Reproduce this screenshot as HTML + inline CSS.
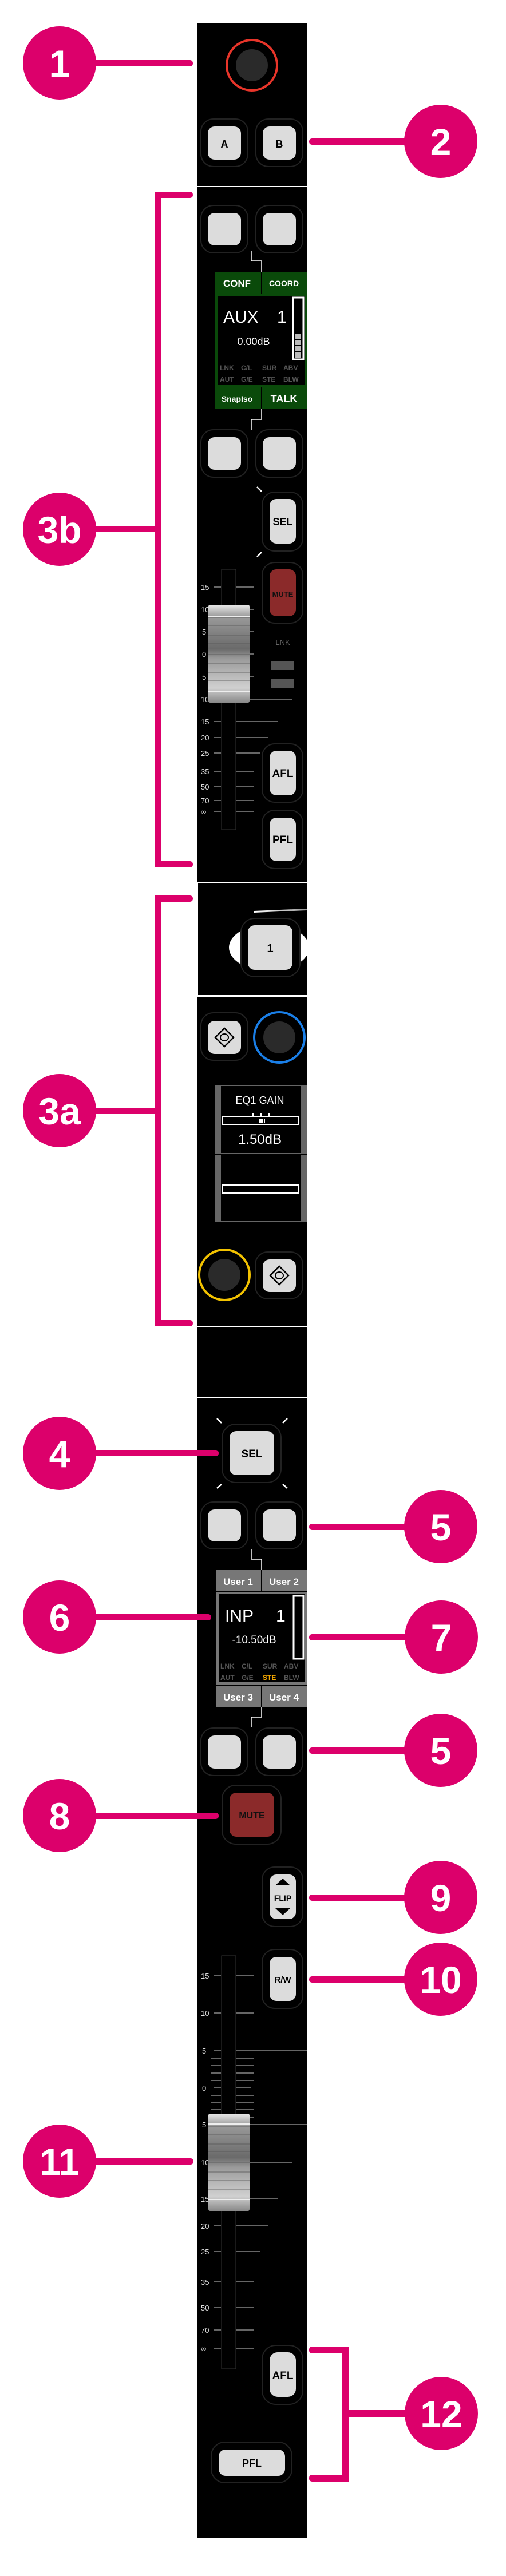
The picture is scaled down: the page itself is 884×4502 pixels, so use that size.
<!DOCTYPE html>
<html><head><meta charset="utf-8"><style>
html,body{margin:0;padding:0;background:#fff;}
svg{display:block;}
text{font-family:"Liberation Sans",sans-serif;}
</style></head><body>
<svg width="884" height="4502" viewBox="0 0 884 4502" xmlns="http://www.w3.org/2000/svg">
<defs>
<linearGradient id="cap" x1="0" y1="0" x2="0" y2="1">
<stop offset="0" stop-color="#e8e8e8"/><stop offset="0.12" stop-color="#9a9a9a"/>
<stop offset="0.45" stop-color="#6a6a6a"/><stop offset="0.55" stop-color="#9a9a9a"/>
<stop offset="0.85" stop-color="#d0d0d0"/><stop offset="1" stop-color="#888"/>
</linearGradient>
<linearGradient id="sw" x1="0" y1="0" x2="1" y2="0">
<stop offset="0" stop-color="#fff"/><stop offset="1" stop-color="#fff" stop-opacity="0.6"/>
</linearGradient>
</defs>
<rect width="884" height="4502" fill="#fff"/>
<!-- strip -->
<rect x="344" y="40" width="192" height="4395" fill="#000"/>
<!-- section separators -->
<rect x="344" y="325" width="192" height="2" fill="#fff"/>
<rect x="344" y="1541" width="192" height="3" fill="#fff"/>
<rect x="344" y="1544" width="2" height="196" fill="#fff"/>
<rect x="344" y="1739" width="192" height="3" fill="#fff"/>
<rect x="344" y="2318" width="192" height="2" fill="#fff"/>
<rect x="344" y="2441" width="192" height="2" fill="#fff"/>

<!-- knob 1 -->
<circle cx="440" cy="114" r="44" fill="none" stroke="#e8352a" stroke-width="4"/>
<circle cx="440" cy="114" r="28" fill="#2a2a2a"/>

<!-- A/B -->
<g>
<rect x="351" y="208" width="82" height="83" rx="22" fill="#000" stroke="#222" stroke-width="2"/>
<rect x="363" y="221" width="58" height="58" rx="12" fill="#dcdcdc"/>
<text x="392" y="258" font-size="18" font-weight="bold" text-anchor="middle">A</text>
<rect x="447" y="208" width="82" height="83" rx="22" fill="#000" stroke="#222" stroke-width="2"/>
<rect x="459" y="221" width="58" height="58" rx="12" fill="#dcdcdc"/>
<text x="488" y="258" font-size="18" font-weight="bold" text-anchor="middle">B</text>
</g>

<!-- row 2 buttons -->
<rect x="351" y="359" width="82" height="83" rx="22" fill="#000" stroke="#222" stroke-width="2"/>
<rect x="363" y="372" width="58" height="57" rx="12" fill="#dcdcdc"/>
<rect x="447" y="359" width="82" height="83" rx="22" fill="#000" stroke="#222" stroke-width="2"/>
<rect x="459" y="372" width="58" height="57" rx="12" fill="#dcdcdc"/>
<polyline points="439,439 439,456 457,456 457,475" fill="none" stroke="#fff" stroke-width="1.5"/>

<!-- AUX display -->
<rect x="376" y="475" width="160" height="38" fill="#0a4a0a"/>
<rect x="456" y="475" width="2" height="38" fill="#000"/>
<text x="414" y="501" font-size="17" font-weight="bold" fill="#fff" text-anchor="middle">CONF</text>
<text x="496" y="500" font-size="14" font-weight="bold" fill="#fff" text-anchor="middle">COORD</text>
<rect x="376" y="514" width="160" height="162" fill="#0a4a0a"/>
<rect x="380" y="517" width="152" height="156" fill="#000"/>
<text x="390" y="564" font-size="30" fill="#fff">AUX</text>
<text x="484" y="564" font-size="30" fill="#fff">1</text>
<text x="443" y="603" font-size="18" fill="#fff" text-anchor="middle">0.00dB</text>
<rect x="512" y="520" width="18" height="108" fill="none" stroke="#fff" stroke-width="3"/>
<rect x="516" y="583" width="10" height="9" fill="#bbb"/>
<rect x="516" y="594" width="10" height="9" fill="#bbb"/>
<rect x="516" y="605" width="10" height="9" fill="#bbb"/>
<rect x="516" y="616" width="10" height="9" fill="#bbb"/>
<g font-family="Liberation Mono,monospace" font-size="12" fill="#555" font-weight="bold">
<text x="384" y="647">LNK</text><text x="421" y="647">C/L</text><text x="458" y="647">SUR</text><text x="495" y="647">ABV</text>
<text x="384" y="667">AUT</text><text x="421" y="667">G/E</text><text x="458" y="667">STE</text><text x="495" y="667">BLW</text>
</g>
<rect x="376" y="677" width="160" height="37" fill="#0a4a0a"/>
<rect x="456" y="677" width="2" height="37" fill="#000"/>
<text x="414" y="702" font-size="14" font-weight="bold" fill="#fff" text-anchor="middle">SnapIso</text>
<text x="496" y="703" font-size="18" font-weight="bold" fill="#fff" text-anchor="middle">TALK</text>
<polyline points="457,714 457,733 439,733 439,751" fill="none" stroke="#fff" stroke-width="1.5"/>

<!-- row 3 -->
<rect x="351" y="751" width="82" height="83" rx="22" fill="#000" stroke="#222" stroke-width="2"/>
<rect x="363" y="764" width="58" height="57" rx="12" fill="#dcdcdc"/>
<rect x="447" y="751" width="82" height="83" rx="22" fill="#000" stroke="#222" stroke-width="2"/>
<rect x="459" y="764" width="58" height="57" rx="12" fill="#dcdcdc"/>

<!-- SEL (top) -->
<line x1="449" y1="851" x2="457" y2="859" stroke="#fff" stroke-width="2.5"/>
<line x1="449" y1="973" x2="457" y2="965" stroke="#fff" stroke-width="2.5"/>
<rect x="458" y="860" width="71" height="103" rx="22" fill="#000" stroke="#222" stroke-width="2"/>
<rect x="471" y="872" width="46" height="78" rx="12" fill="#dcdcdc"/>
<text x="494" y="918" font-size="18" font-weight="bold" text-anchor="middle">SEL</text>
<!-- MUTE -->
<rect x="458" y="983" width="71" height="106" rx="22" fill="#000" stroke="#222" stroke-width="2"/>
<rect x="471" y="995" width="46" height="82" rx="12" fill="#8b2a2a"/>
<text x="494" y="1043" font-size="13" font-weight="bold" fill="#111" text-anchor="middle">MUTE</text>
<text x="494" y="1127" font-size="13" fill="#666" text-anchor="middle">LNK</text>
<rect x="474" y="1155" width="40" height="16" fill="#555"/>
<rect x="474" y="1187" width="40" height="16" fill="#555"/>

<!-- fader 1 -->
<rect x="387" y="995" width="25" height="455" fill="#000" stroke="#333" stroke-width="1"/>
<g stroke="#888" stroke-width="1.5">
<line x1="374" y1="1026" x2="386" y2="1026"/><line x1="413" y1="1026" x2="444" y2="1026"/>
<line x1="413" y1="1065" x2="444" y2="1065"/>
<line x1="413" y1="1104" x2="444" y2="1104"/>
<line x1="413" y1="1143" x2="444" y2="1143"/>
<line x1="413" y1="1183" x2="444" y2="1183"/>
<line x1="413" y1="1222" x2="511" y2="1222"/>
<line x1="374" y1="1261" x2="386" y2="1261"/><line x1="413" y1="1261" x2="486" y2="1261"/>
<line x1="374" y1="1289" x2="386" y2="1289"/><line x1="413" y1="1289" x2="468" y2="1289"/>
<line x1="374" y1="1316" x2="386" y2="1316"/><line x1="413" y1="1316" x2="455" y2="1316"/>
<line x1="374" y1="1348" x2="386" y2="1348"/><line x1="413" y1="1348" x2="444" y2="1348"/>
<line x1="374" y1="1375" x2="386" y2="1375"/><line x1="413" y1="1375" x2="444" y2="1375"/>
<line x1="374" y1="1399" x2="386" y2="1399"/><line x1="413" y1="1399" x2="444" y2="1399"/>
<line x1="374" y1="1418" x2="386" y2="1418"/><line x1="413" y1="1418" x2="444" y2="1418"/>
</g>
<g font-size="13" fill="#ddd">
<text x="351" y="1031">15</text><text x="351" y="1070">10</text><text x="353" y="1109">5</text>
<text x="353" y="1148">0</text><text x="353" y="1188">5</text><text x="351" y="1227">10</text>
<text x="351" y="1266">15</text><text x="351" y="1294">20</text><text x="351" y="1321">25</text>
<text x="351" y="1353">35</text><text x="351" y="1380">50</text><text x="351" y="1404">70</text>
<text x="351" y="1423">∞</text>
</g>
<rect x="364" y="1057" width="72" height="171" rx="3" fill="url(#cap)"/>
<g stroke="#555" stroke-width="1" opacity="0.8">
<line x1="364" y1="1079" x2="436" y2="1079"/><line x1="364" y1="1093" x2="436" y2="1093"/>
<line x1="364" y1="1110" x2="436" y2="1110"/><line x1="364" y1="1124" x2="436" y2="1124"/>
<line x1="364" y1="1144" x2="436" y2="1144"/><line x1="364" y1="1160" x2="436" y2="1160"/>
<line x1="364" y1="1175" x2="436" y2="1175"/><line x1="364" y1="1190" x2="436" y2="1190"/>
</g>
<rect x="364" y="1076" width="72" height="2" fill="#eee"/>
<rect x="364" y="1207" width="72" height="2" fill="#eee"/>

<!-- AFL/PFL top -->
<rect x="458" y="1300" width="71" height="102" rx="22" fill="#000" stroke="#222" stroke-width="2"/>
<rect x="471" y="1312" width="46" height="78" rx="12" fill="#dcdcdc"/>
<text x="494" y="1358" font-size="19" font-weight="bold" text-anchor="middle">AFL</text>
<rect x="458" y="1416" width="71" height="102" rx="22" fill="#000" stroke="#222" stroke-width="2"/>
<rect x="471" y="1429" width="46" height="76" rx="12" fill="#dcdcdc"/>
<text x="494" y="1474" font-size="19" font-weight="bold" text-anchor="middle">PFL</text>

<!-- section with "1" -->
<polygon points="444,1592 536,1588 536,1591 444,1595" fill="url(#sw)"/>
<clipPath id="c1"><rect x="346" y="1544" width="190" height="195"/></clipPath>
<ellipse cx="470" cy="1656" rx="70" ry="41" fill="#fff" clip-path="url(#c1)"/>
<rect x="421" y="1605" width="103" height="102" rx="24" fill="#000" stroke="#222" stroke-width="2"/>
<rect x="433" y="1617" width="78" height="78" rx="12" fill="#dcdcdc"/>
<text x="472" y="1664" font-size="20" font-weight="bold" text-anchor="middle">1</text>

<!-- EQ section -->
<rect x="351" y="1770" width="82" height="83" rx="22" fill="#000" stroke="#222" stroke-width="2"/>
<rect x="363" y="1784" width="58" height="58" rx="12" fill="#dcdcdc"/>
<polygon points="392,1797 408,1813 392,1829 376,1813" fill="none" stroke="#000" stroke-width="2.5"/>
<ellipse cx="392" cy="1813" rx="7" ry="6" fill="none" stroke="#000" stroke-width="2"/>
<circle cx="488" cy="1813" r="44" fill="none" stroke="#1a7fe8" stroke-width="4"/>
<circle cx="488" cy="1813" r="28" fill="#2a2a2a"/>

<rect x="376" y="1897" width="160" height="119" fill="#666"/>
<rect x="386" y="1898" width="140" height="117" fill="#000"/>
<text x="454" y="1929" font-size="18" fill="#fff" text-anchor="middle">EQ1 GAIN</text>
<rect x="389" y="1952" width="133" height="13" fill="none" stroke="#fff" stroke-width="2"/>
<rect x="441" y="1946" width="2" height="5" fill="#fff"/><rect x="455" y="1946" width="2" height="5" fill="#fff"/><rect x="469" y="1946" width="2" height="5" fill="#fff"/>
<rect x="452" y="1955" width="2" height="8" fill="#fff"/><rect x="455" y="1955" width="2" height="8" fill="#fff"/><rect x="458" y="1955" width="2" height="8" fill="#fff"/><rect x="461" y="1955" width="2" height="8" fill="#fff"/>
<text x="454" y="1999" font-size="24" fill="#fff" text-anchor="middle">1.50dB</text>
<rect x="376" y="2018" width="160" height="117" fill="#666"/>
<rect x="386" y="2019" width="140" height="115" fill="#000"/>
<rect x="389" y="2071" width="133" height="14" fill="none" stroke="#fff" stroke-width="2"/>

<circle cx="392" cy="2228" r="44" fill="none" stroke="#f2c200" stroke-width="4"/>
<circle cx="392" cy="2228" r="28" fill="#2a2a2a"/>
<rect x="446" y="2188" width="83" height="82" rx="22" fill="#000" stroke="#222" stroke-width="2"/>
<rect x="459" y="2201" width="58" height="57" rx="12" fill="#dcdcdc"/>
<polygon points="488,2213 504,2229 488,2245 472,2229" fill="none" stroke="#000" stroke-width="2.5"/>
<ellipse cx="488" cy="2229" rx="7" ry="6" fill="none" stroke="#000" stroke-width="2"/>

<!-- SEL 2 -->
<line x1="379" y1="2479" x2="387" y2="2487" stroke="#fff" stroke-width="2.5"/>
<line x1="502" y1="2479" x2="494" y2="2487" stroke="#fff" stroke-width="2.5"/>
<line x1="379" y1="2601" x2="387" y2="2594" stroke="#fff" stroke-width="2.5"/>
<line x1="502" y1="2601" x2="494" y2="2594" stroke="#fff" stroke-width="2.5"/>
<rect x="388" y="2489" width="103" height="102" rx="24" fill="#000" stroke="#222" stroke-width="2"/>
<rect x="401" y="2501" width="78" height="77" rx="12" fill="#dcdcdc"/>
<text x="440" y="2547" font-size="19" font-weight="bold" text-anchor="middle">SEL</text>

<rect x="351" y="2625" width="82" height="82" rx="22" fill="#000" stroke="#222" stroke-width="2"/>
<rect x="363" y="2638" width="58" height="56" rx="12" fill="#dcdcdc"/>
<rect x="447" y="2625" width="82" height="82" rx="22" fill="#000" stroke="#222" stroke-width="2"/>
<rect x="459" y="2638" width="58" height="56" rx="12" fill="#dcdcdc"/>
<polyline points="439,2708 439,2725 457,2725 457,2744" fill="none" stroke="#fff" stroke-width="1.5"/>

<!-- INP display -->
<rect x="377" y="2744" width="159" height="37" fill="#777"/>
<rect x="456" y="2744" width="2" height="37" fill="#000"/>
<text x="416" y="2770" font-size="17" font-weight="bold" fill="#fff" text-anchor="middle">User 1</text>
<text x="496" y="2770" font-size="17" font-weight="bold" fill="#fff" text-anchor="middle">User 2</text>
<rect x="377" y="2782" width="159" height="163" fill="#777"/>
<rect x="382" y="2786" width="151" height="154" fill="#000"/>
<text x="393" y="2834" font-size="30" fill="#fff">INP</text>
<text x="482" y="2834" font-size="30" fill="#fff">1</text>
<text x="444" y="2872" font-size="19" fill="#fff" text-anchor="middle">-10.50dB</text>
<rect x="513" y="2789" width="17" height="110" fill="none" stroke="#fff" stroke-width="3"/>
<g font-family="Liberation Mono,monospace" font-size="12" fill="#555" font-weight="bold">
<text x="385" y="2916">LNK</text><text x="422" y="2916">C/L</text><text x="459" y="2916">SUR</text><text x="496" y="2916">ABV</text>
<text x="385" y="2936">AUT</text><text x="422" y="2936">G/E</text><text x="459" y="2936" fill="#f5a800">STE</text><text x="496" y="2936">BLW</text>
</g>
<rect x="377" y="2947" width="159" height="36" fill="#777"/>
<rect x="456" y="2947" width="2" height="36" fill="#000"/>
<text x="416" y="2972" font-size="17" font-weight="bold" fill="#fff" text-anchor="middle">User 3</text>
<text x="496" y="2972" font-size="17" font-weight="bold" fill="#fff" text-anchor="middle">User 4</text>
<polyline points="457,2983 457,3001 439,3001 439,3019" fill="none" stroke="#fff" stroke-width="1.5"/>

<rect x="351" y="3020" width="82" height="83" rx="22" fill="#000" stroke="#222" stroke-width="2"/>
<rect x="363" y="3033" width="58" height="58" rx="12" fill="#dcdcdc"/>
<rect x="447" y="3020" width="82" height="83" rx="22" fill="#000" stroke="#222" stroke-width="2"/>
<rect x="459" y="3033" width="58" height="58" rx="12" fill="#dcdcdc"/>

<!-- MUTE 2 -->
<rect x="388" y="3120" width="103" height="103" rx="24" fill="#000" stroke="#222" stroke-width="2"/>
<rect x="401" y="3133" width="78" height="77" rx="12" fill="#8b2a2a"/>
<text x="440" y="3178" font-size="16" font-weight="bold" fill="#111" text-anchor="middle">MUTE</text>

<!-- FLIP -->
<rect x="458" y="3263" width="71" height="104" rx="22" fill="#000" stroke="#222" stroke-width="2"/>
<rect x="471" y="3276" width="46" height="78" rx="12" fill="#dcdcdc"/>
<polygon points="494,3283 507,3295 481,3295" fill="#000"/>
<polygon points="494,3347 507,3335 481,3335" fill="#000"/>
<text x="494" y="3322" font-size="14" font-weight="bold" text-anchor="middle">FLIP</text>
<!-- R/W -->
<rect x="458" y="3407" width="71" height="103" rx="22" fill="#000" stroke="#222" stroke-width="2"/>
<rect x="471" y="3420" width="46" height="77" rx="12" fill="#dcdcdc"/>
<text x="494" y="3465" font-size="15" font-weight="bold" text-anchor="middle">R/W</text>

<!-- fader 2 -->
<rect x="387" y="3418" width="25" height="722" fill="#000" stroke="#333" stroke-width="1"/>
<g stroke="#888" stroke-width="1.5">
<line x1="374" y1="3453" x2="386" y2="3453"/><line x1="413" y1="3453" x2="444" y2="3453"/>
<line x1="374" y1="3518" x2="386" y2="3518"/><line x1="413" y1="3518" x2="444" y2="3518"/>
<line x1="374" y1="3584" x2="386" y2="3584"/><line x1="413" y1="3584" x2="536" y2="3584"/>
<line x1="368" y1="3598" x2="386" y2="3598"/><line x1="413" y1="3598" x2="444" y2="3598"/>
<line x1="368" y1="3610" x2="386" y2="3610"/><line x1="413" y1="3610" x2="444" y2="3610"/>
<line x1="368" y1="3623" x2="386" y2="3623"/><line x1="413" y1="3623" x2="444" y2="3623"/>
<line x1="368" y1="3636" x2="386" y2="3636"/><line x1="413" y1="3636" x2="444" y2="3636"/>
<line x1="374" y1="3649" x2="386" y2="3649"/><line x1="413" y1="3649" x2="439" y2="3649"/>
<line x1="368" y1="3662" x2="386" y2="3662"/><line x1="413" y1="3662" x2="444" y2="3662"/>
<line x1="368" y1="3675" x2="386" y2="3675"/><line x1="413" y1="3675" x2="444" y2="3675"/>
<line x1="368" y1="3687" x2="386" y2="3687"/><line x1="413" y1="3687" x2="444" y2="3687"/>
<line x1="413" y1="3700" x2="444" y2="3700"/>
<line x1="413" y1="3713" x2="536" y2="3713"/>
<line x1="413" y1="3779" x2="511" y2="3779"/>
<line x1="413" y1="3843" x2="486" y2="3843"/>
<line x1="374" y1="3890" x2="386" y2="3890"/><line x1="413" y1="3890" x2="468" y2="3890"/>
<line x1="374" y1="3935" x2="386" y2="3935"/><line x1="413" y1="3935" x2="455" y2="3935"/>
<line x1="374" y1="3988" x2="386" y2="3988"/><line x1="413" y1="3988" x2="444" y2="3988"/>
<line x1="374" y1="4033" x2="386" y2="4033"/><line x1="413" y1="4033" x2="444" y2="4033"/>
<line x1="374" y1="4072" x2="386" y2="4072"/><line x1="413" y1="4072" x2="444" y2="4072"/>
<line x1="374" y1="4104" x2="386" y2="4104"/><line x1="413" y1="4104" x2="444" y2="4104"/>
</g>
<g font-size="13" fill="#ddd">
<text x="351" y="3458">15</text><text x="351" y="3523">10</text><text x="353" y="3589">5</text>
<text x="353" y="3654">0</text><text x="353" y="3718">5</text><text x="351" y="3784">10</text>
<text x="351" y="3848">15</text><text x="351" y="3895">20</text><text x="351" y="3940">25</text>
<text x="351" y="3993">35</text><text x="351" y="4038">50</text><text x="351" y="4077">70</text>
<text x="351" y="4109">∞</text>
</g>
<rect x="364" y="3694" width="72" height="170" rx="3" fill="url(#cap)"/>
<g stroke="#555" stroke-width="1" opacity="0.8">
<line x1="364" y1="3716" x2="436" y2="3716"/><line x1="364" y1="3730" x2="436" y2="3730"/>
<line x1="364" y1="3747" x2="436" y2="3747"/><line x1="364" y1="3760" x2="436" y2="3760"/>
<line x1="364" y1="3779" x2="436" y2="3779"/><line x1="364" y1="3796" x2="436" y2="3796"/>
<line x1="364" y1="3811" x2="436" y2="3811"/><line x1="364" y1="3826" x2="436" y2="3826"/>
</g>
<rect x="364" y="3711" width="72" height="2" fill="#eee"/>
<rect x="364" y="3843" width="72" height="2" fill="#eee"/>

<!-- AFL/PFL bottom -->
<rect x="458" y="4099" width="71" height="103" rx="24" fill="#000" stroke="#222" stroke-width="2"/>
<rect x="471" y="4111" width="46" height="78" rx="14" fill="#dcdcdc"/>
<text x="494" y="4158" font-size="19" font-weight="bold" text-anchor="middle">AFL</text>
<rect x="369" y="4268" width="141" height="71" rx="24" fill="#000" stroke="#222" stroke-width="2"/>
<rect x="382" y="4281" width="116" height="46" rx="12" fill="#dcdcdc"/>
<text x="440" y="4311" font-size="18" font-weight="bold" text-anchor="middle">PFL</text>

<!-- callouts -->
<g fill="#dc006b" stroke="none">
<!-- 1 -->
<rect x="150" y="105" width="187" height="11" rx="5"/>
<!-- 2 -->
<rect x="540" y="242" width="200" height="11" rx="5"/>
<!-- 3b bracket -->
<rect x="271" y="335" width="11" height="1181"/>
<rect x="271" y="335" width="66" height="11" rx="5"/>
<rect x="271" y="1505" width="66" height="11" rx="5"/>
<rect x="150" y="919" width="125" height="11"/>
<!-- 3a bracket -->
<rect x="271" y="1565" width="11" height="753"/>
<rect x="271" y="1565" width="66" height="11" rx="5"/>
<rect x="271" y="2307" width="66" height="11" rx="5"/>
<rect x="150" y="1936" width="125" height="11"/>
<!-- 4 -->
<rect x="150" y="2534" width="232" height="11" rx="5"/>
<!-- 5 -->
<rect x="540" y="2663" width="200" height="11" rx="5"/>
<!-- 6 -->
<rect x="150" y="2821" width="219" height="11" rx="5"/>
<!-- 7 -->
<rect x="540" y="2856" width="200" height="11" rx="5"/>
<!-- 5b -->
<rect x="540" y="3054" width="200" height="11" rx="5"/>
<!-- 8 -->
<rect x="150" y="3168" width="232" height="11" rx="5"/>
<!-- 9 -->
<rect x="540" y="3311" width="200" height="11" rx="5"/>
<!-- 10 -->
<rect x="540" y="3454" width="200" height="11" rx="5"/>
<!-- 11 -->
<rect x="150" y="3772" width="188" height="11" rx="5"/>
<!-- 12 bracket -->
<rect x="598" y="4101" width="12" height="236"/>
<rect x="540" y="4101" width="70" height="12" rx="5"/>
<rect x="540" y="4325" width="70" height="12" rx="5"/>
<rect x="598" y="4212" width="120" height="12"/>

<circle cx="104" cy="110" r="64"/>
<circle cx="770" cy="247" r="64"/>
<circle cx="104" cy="925" r="64"/>
<circle cx="104" cy="1941" r="64"/>
<circle cx="104" cy="2540" r="64"/>
<circle cx="770" cy="2668" r="64"/>
<circle cx="104" cy="2826" r="64"/>
<circle cx="771" cy="2861" r="64"/>
<circle cx="770" cy="3059" r="64"/>
<circle cx="104" cy="3173" r="64"/>
<circle cx="770" cy="3316" r="64"/>
<circle cx="770" cy="3459" r="64"/>
<circle cx="104" cy="3777" r="64"/>
<circle cx="771" cy="4218" r="64"/>
</g>
<g fill="#fff" font-weight="bold" font-size="66" text-anchor="middle">
<text x="104" y="134">1</text>
<text x="770" y="271">2</text>
<text x="104" y="949">3b</text>
<text x="104" y="1965">3a</text>
<text x="104" y="2564">4</text>
<text x="770" y="2692">5</text>
<text x="104" y="2850">6</text>
<text x="771" y="2885">7</text>
<text x="770" y="3083">5</text>
<text x="104" y="3197">8</text>
<text x="770" y="3340">9</text>
<text x="770" y="3483">10</text>
<text x="104" y="3801">11</text>
<text x="771" y="4242">12</text>
</g>
</svg>
</body></html>
